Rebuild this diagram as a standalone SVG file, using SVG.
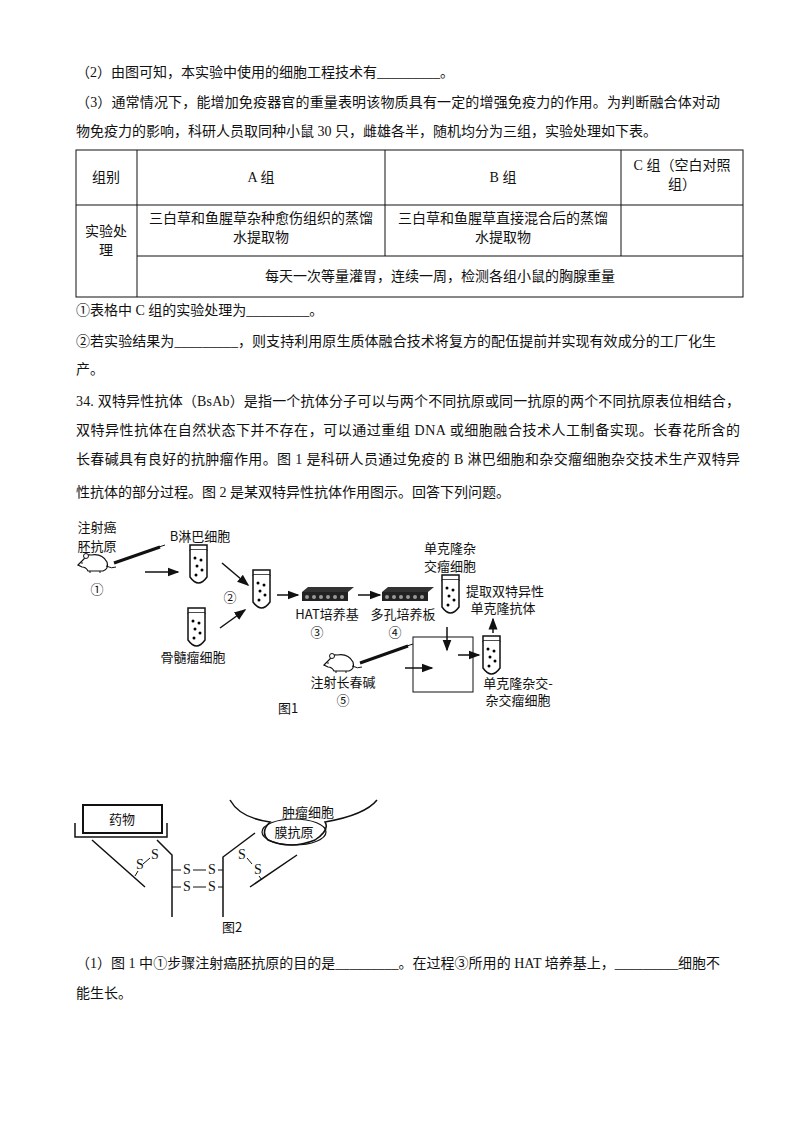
<svg xmlns="http://www.w3.org/2000/svg" width="800" height="1132" viewBox="0 0 800 1132">
<style>
text{font-family:"Liberation Serif","Noto Sans CJK SC",serif;font-size:14px;fill:#111}
.s{font-family:"Noto Sans CJK SC",sans-serif;font-size:13px}
.m{text-anchor:middle}
.l{stroke:#111;stroke-width:1.5;fill:none}
.t{stroke:#111;stroke-width:1;fill:none}
</style>
<defs>
<marker id="a" markerWidth="8" markerHeight="8" refX="7" refY="4" orient="auto"><path d="M0,1 L8,4 L0,7 z" fill="#111"/></marker>
<g id="tube"><rect x="0" y="0" width="17" height="5" fill="#fff" stroke="#111" stroke-width="1.5"/><path d="M0,5 V32 Q8.5,44 17,32 V5" fill="#fff" stroke="#111" stroke-width="1.5"/><circle cx="5" cy="13" r="1.5"/><circle cx="11" cy="15" r="1.5"/><circle cx="7" cy="21" r="1.5"/><circle cx="12" cy="25" r="1.5"/><circle cx="6" cy="30" r="1.5"/></g>
<g id="mouse"><path d="M-16,2 L-10,-4 Q-8,-9 -3,-8 Q8,-10 13,-1 Q15,6 9,8 L-6,8 Q-8,4 -12,4 z" fill="#fff" stroke="#111" stroke-width="1.2"/><circle cx="-8" cy="-7" r="2.5" fill="#fff" stroke="#111"/><circle cx="-12" cy="0" r="0.8"/><path d="M-4,8 V10 M6,8 V10 M12,3 Q18,6 22,4" class="t"/></g>
<g id="plate"><path d="M0,5 L6,0 H52 L46,5 z" fill="#333"/><rect x="0" y="5" width="46" height="9" fill="#222"/><g fill="#999"><circle cx="5" cy="10" r="2"/><circle cx="12" cy="10" r="2"/><circle cx="19" cy="10" r="2"/><circle cx="26" cy="10" r="2"/><circle cx="33" cy="10" r="2"/><circle cx="40" cy="10" r="2"/></g></g>
</defs>

<g id="text-top">
<text x="76" y="77">（2）由图可知，本实验中使用的细胞工程技术有_________。</text>
<text x="76" y="107" textLength="644">（3）通常情况下，能增加免疫器官的重量表明该物质具有一定的增强免疫力的作用。为判断融合体对动</text>
<text x="76" y="136">物免疫力的影响，科研人员取同种小鼠 30 只，雌雄各半，随机均分为三组，实验处理如下表。</text>
</g>

<g id="table">
<rect x="76" y="150" width="667" height="147" class="t"/>
<path d="M76,205 H743 M137,256 H743 M137,150 V297 M385,150 V256 M621,150 V256" class="t"/>
<text x="106" y="182" class="m">组别</text>
<text x="261" y="182" class="m">A 组</text>
<text x="503" y="182" class="m">B 组</text>
<text x="682" y="170" class="m">C 组（空白对照</text>
<text x="682" y="189" class="m">组）</text>
<text x="106" y="236" class="m">实验处</text>
<text x="106" y="255" class="m">理</text>
<text x="261" y="223" class="m">三白草和鱼腥草杂种愈伤组织的蒸馏</text>
<text x="261" y="242" class="m">水提取物</text>
<text x="503" y="223" class="m">三白草和鱼腥草直接混合后的蒸馏</text>
<text x="503" y="242" class="m">水提取物</text>
<text x="440" y="281" class="m">每天一次等量灌胃，连续一周，检测各组小鼠的胸腺重量</text>
</g>

<g id="text-mid">
<text x="76" y="315">①表格中 C 组的实验处理为_________。</text>
<text x="76" y="346" textLength="640">②若实验结果为_________，则支持利用原生质体融合技术将复方的配伍提前并实现有效成分的工厂化生</text>
<text x="76" y="374">产。</text>
<text x="76" y="406" textLength="664">34. 双特异性抗体（BsAb）是指一个抗体分子可以与两个不同抗原或同一抗原的两个不同抗原表位相结合，</text>
<text x="76" y="435" textLength="664">双特异性抗体在自然状态下并不存在，可以通过重组 DNA 或细胞融合技术人工制备实现。长春花所含的</text>
<text x="76" y="464" textLength="664">长春碱具有良好的抗肿瘤作用。图 1 是科研人员通过免疫的 B 淋巴细胞和杂交瘤细胞杂交技术生产双特异</text>
<text x="76" y="497">性抗体的部分过程。图 2 是某双特异性抗体作用图示。回答下列问题。</text>
</g>

<g id="fig1">
<text x="97" y="532" class="s m">注射癌</text>
<text x="97" y="551" class="s m">胚抗原</text>
<use href="#mouse" x="94" y="563"/>
<path d="M114,563 L160,547" stroke="#111" stroke-width="3"/><path d="M150,550 L165,545" class="t"/>
<text x="97" y="594" class="s m">①</text>
<text x="200" y="541" class="s m">B淋巴细胞</text>
<use href="#tube" x="190" y="545"/>
<use href="#tube" x="188" y="608"/>
<text x="193" y="662" class="s m">骨髓瘤细胞</text>
<text x="230" y="602" class="s m">②</text>
<use href="#tube" x="253" y="570"/>
<use href="#plate" x="302" y="587"/>
<text x="327" y="619" class="s m">HAT培养基</text>
<text x="317" y="637" class="s m">③</text>
<use href="#plate" x="382" y="587"/>
<text x="403" y="619" class="s m">多孔培养板</text>
<text x="395" y="637" class="s m">④</text>
<text x="450" y="553" class="s m">单克隆杂</text>
<text x="450" y="571" class="s m">交瘤细胞</text>
<use href="#tube" x="442" y="575"/>
<text x="505" y="596" class="s m">提取双特异性</text>
<text x="503" y="613" class="s m">单克隆抗体</text>
<rect x="413" y="637" width="60" height="55" class="t"/>
<use href="#tube" x="483" y="636"/>
<text x="518" y="688" class="s m">单克隆杂交-</text>
<text x="518" y="705" class="s m">杂交瘤细胞</text>
<use href="#mouse" x="340" y="663"/>
<path d="M360,663 L408,646" stroke="#111" stroke-width="3"/><path d="M398,649 L413,644" class="t"/>
<text x="343" y="687" class="s m">注射长春碱</text>
<text x="343" y="705" class="s m">⑤</text>
<text x="288" y="713" class="s m">图1</text>
</g>

<g id="fig2">
<rect x="83" y="805" width="79" height="28" fill="#fff" stroke="#111" stroke-width="2"/>
<text x="122" y="824" class="s m" font-size="14">药物</text>
<path d="M75,823 V837 H167 V823" class="l" stroke-width="2"/>
<path d="M92,840 L145,887 M157,840 L172,855 V917 M223,917 V857 L255,833 M250,887 L297,855" class="l"/>
<path d="M230,800 Q240,818 270,822 Q260,832 268,840 Q290,850 315,840 Q330,830 325,822 Q365,815 377,800" fill="none" stroke="#111" stroke-width="1.5"/>
<ellipse cx="294" cy="832" rx="32" ry="13" fill="none" stroke="#111" stroke-width="1.2"/>
<text x="308" y="817" class="s m">肿瘤细胞</text>
<text x="294" y="837" class="s m">膜抗原</text>
<g>
<text x="140" y="869" class="m" font-size="12">S</text><text x="155" y="859" class="m" font-size="12">S</text>
<text x="242" y="859" class="m" font-size="12">S</text><text x="258" y="874" class="m" font-size="12">S</text>
<text x="187" y="874" class="m" font-size="12">S</text><text x="212" y="874" class="m" font-size="12">S</text>
<text x="187" y="891" class="m" font-size="12">S</text><text x="212" y="891" class="m" font-size="12">S</text>
</g>
<path d="M135,876 L138,871 M143,864 L150,858 M247,858 L252,864 M259,876 L262,880 M172,870 H181 M193,870 H206 M218,870 H223 M172,887 H181 M193,887 H206 M218,887 H223" class="t"/>
<text x="232" y="932" class="s m">图2</text>
</g>

<g id="connectors" class="l" stroke-width="1.2">
<path d="M145,572 H178" marker-end="url(#a)"/>
<path d="M222,563 L248,585" marker-end="url(#a)"/>
<path d="M220,628 L245,610" marker-end="url(#a)"/>
<path d="M277,595 H298" marker-end="url(#a)"/>
<path d="M358,595 H380" marker-end="url(#a)"/>
<path d="M447,627 V650" marker-end="url(#a)"/>
<path d="M458,655 H479" marker-end="url(#a)"/>
<path d="M405,668 H432" marker-end="url(#a)"/>
<path d="M493,633 V619" marker-end="url(#a)"/>
</g>

<g id="text-bottom">
<text x="76" y="968" textLength="644">（1）图 1 中①步骤注射癌胚抗原的目的是_________。在过程③所用的 HAT 培养基上，_________细胞不</text>
<text x="76" y="998">能生长。</text>
</g>
</svg>
